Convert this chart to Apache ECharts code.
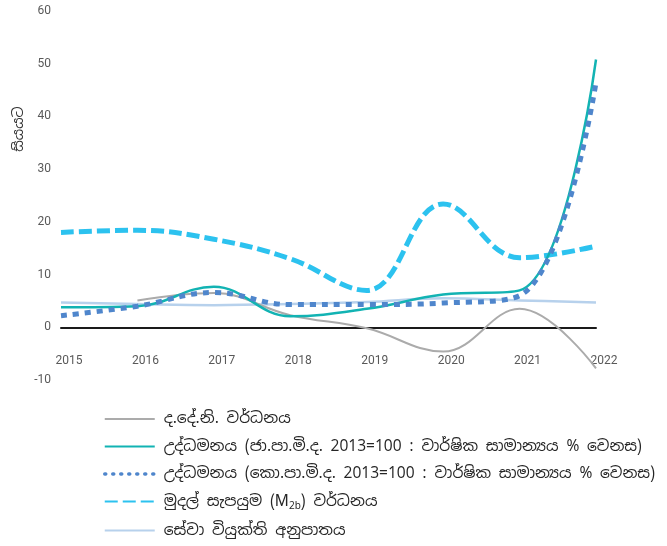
<!DOCTYPE html>
<html>
<head>
<meta charset="utf-8">
<script src="https://cdn.jsdelivr.net/npm/echarts@6/dist/echarts.min.js"></script>
<style>
  html, body { margin: 0; padding: 0; background: #fff; }
  #chart { width: 667px; height: 546px; }
</style>
</head>
<body>
<div id="chart"></div>
<script>
// data
const years = ['2015', '2016', '2017', '2018', '2019', '2020', '2021', '2022']
const gdpGrowth = [null, 5.1, 6.5, 2.3, -0.2, -4.6, 3.5, -7.8]
const ncpiInfl = [3.8, 4.0, 7.7, 2.1, 3.5, 6.2, 7.0, 50.8]
const ccpiInfl = [2.2, 4.0, 6.6, 4.3, 4.3, 4.6, 6.0, 46.4]
const m2bGrowth = [18.0, 18.4, 16.7, 13.0, 7.0, 23.4, 13.2, 15.4]
const unemp = [4.7, 4.4, 4.2, 4.4, 4.8, 5.5, 5.1, 4.7]

const names = [
  'ද.දේ.නි. වර්ධනය',
  'උද්ධමනය (ජා.පා.මි.ද. 2013=100 : වාර්ෂික සාමාන්‍යය % වෙනස)',
  'උද්ධමනය (කො.පා.මි.ද. 2013=100 : වාර්ෂික සාමාන්‍යය % වෙනස)',
  'මුදල් සැපයුම (M2b) වර්ධනය',
  'සේවා වියුක්ති අනුපාතය'
]

const sinhala = '"Noto Sans Sinhala", "Noto Sans", "Liberation Sans", sans-serif'

const myChart = echarts.init(document.getElementById('chart'))
const option = {
  animation: false,
  backgroundColor: '#fff',
  grid: {
    left: 61,
    right: 71,
    top: 11,
    bottom: 166
  },
  xAxis: {
    type: 'category',
    data: years,
    boundaryGap: false,
    axisLine: {
      onZero: true,
      lineStyle: { color: '#1a1a1a', width: 2 }
    },
    axisTick: { show: false },
    axisLabel: {
      inside: true, // labels sit above the plot bottom, under the zero line
      color: '#595959',
      fontFamily: 'Roboto',
      fontSize: 12,
      margin: 13,
      padding: [0, 0, 0, 16]
    },
    splitLine: { show: false }
  },
  yAxis: {
    type: 'value',
    min: -10,
    max: 60,
    interval: 10,
    axisLine: { show: false },
    axisTick: { show: false },
    splitLine: { show: false },
    axisLabel: {
      color: '#595959',
      fontFamily: 'Roboto',
      fontSize: 12,
      margin: 10
    }
  },
  // y axis title
  graphic: [{
    type: 'text',
    x: 19,
    y: 129,
    rotation: Math.PI / 2,
    style: {
      text: 'සියයට',
      fill: '#333',
      font: '14px ' + sinhala,
      align: 'center',
      verticalAlign: 'middle'
    }
  }],
  legend: {
    orient: 'vertical',
    left: 98,
    top: 406,
    height: 140,
    itemWidth: 50,
    itemHeight: 14,
    itemGap: 11.5,
    data: [
      names[0],
      names[1],
      { name: names[2], lineStyle: { width: 3.5, type: [1, 7], cap: 'round' } },
      names[3],
      names[4]
    ],
    itemStyle: { opacity: 0 },
    textStyle: {
      color: '#262626',
      fontSize: 15.5,
      fontFamily: sinhala,
      padding: [0, 0, 0, 4],
      rich: {
        t: { fontSize: 15.5, fontFamily: sinhala, color: '#262626' },
        s: { fontSize: 10, fontFamily: sinhala, color: '#262626', verticalAlign: 'bottom', padding: [9, 0, 0, 0] }
      }
    },
    formatter: function (name) {
      if (name === names[3]) {
        return '{t|මුදල් සැපයුම (M}{s|2b}{t|) වර්ධනය}'
      }
      return name
    }
  },
  series: [
    {
      name: names[0],
      type: 'line',
      data: gdpGrowth,
      smooth: 0.4,
      symbol: 'none',
      z: 3,
      lineStyle: { color: '#ababab', width: 2 },
      itemStyle: { color: '#ababab' }
    },
    {
      name: names[1],
      type: 'line',
      data: ncpiInfl,
      smooth: 0.4,
      symbol: 'none',
      z: 4,
      lineStyle: { color: '#12b3b3', width: 2.5 },
      itemStyle: { color: '#12b3b3' }
    },
    {
      name: names[2],
      type: 'line',
      data: ccpiInfl,
      smooth: 0.4,
      symbol: 'none',
      z: 5,
      lineStyle: { color: '#4f86cc', width: 5, type: [6, 6], cap: 'butt' },
      itemStyle: { color: '#4f86cc' }
    },
    {
      name: names[3],
      type: 'line',
      data: m2bGrowth,
      smooth: 0.4,
      symbol: 'none',
      z: 2,
      lineStyle: { color: '#2cc2ef', width: 5, type: [13, 5], cap: 'butt' },
      itemStyle: { color: '#2cc2ef' }
    },
    {
      name: names[4],
      type: 'line',
      data: unemp,
      smooth: 0.4,
      symbol: 'none',
      z: 1,
      lineStyle: { color: '#b7d1ec', width: 2.5 },
      itemStyle: { color: '#b7d1ec' }
    }
  ]
}
myChart.setOption(option)
</script>
</body>
</html>
